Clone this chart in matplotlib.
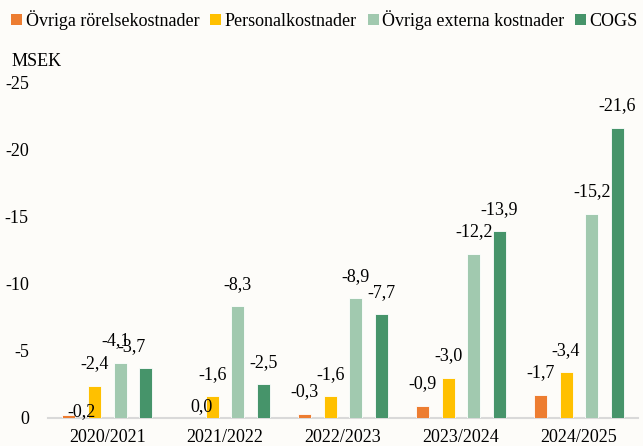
import numpy as np
import matplotlib
matplotlib.use('Agg')
import matplotlib.pyplot as plt
from matplotlib.patches import Patch

years = ['2020/2021', '2021/2022', '2022/2023', '2023/2024', '2024/2025']
series_names = ['Övriga rörelsekostnader', 'Personalkostnader',
                'Övriga externa kostnader', 'COGS']
ovriga_rorelse = [-0.2, 0.0, -0.3, -0.9, -1.7]
personal = [-2.4, -1.6, -1.6, -3.0, -3.4]
ovriga_externa = [-4.1, -8.3, -8.9, -12.2, -15.2]
cogs = [-3.7, -2.5, -7.7, -13.9, -21.6]
y_ticks = [0, -5, -10, -15, -20, -25]

colors = ['#ED7D31', '#FFC000', '#A1C9AF', '#46946A']
bg = '#FDFCF9'

# manual nudges (pixels) for a few crowded labels: (series, group) -> (dx, dy)
label_nudge = {(0, 0): (13, -18), (0, 1): (15, -11),
               (2, 0): (-4, 0), (3, 0): (-14, 0)}

plt.rcParams['font.family'] = ['Liberation Serif', 'DejaVu Serif']


def fmt(v):
    return ('%.1f' % v).replace('.', ',')


def main():
    fig = plt.figure(figsize=(6.43, 4.46), dpi=100, facecolor=bg)
    ax = fig.add_axes([0.075, 0.063, 0.917, 0.753], facecolor=bg)

    x = np.arange(len(years))
    width = 0.11
    step = 0.218
    all_series = [ovriga_rorelse, personal, ovriga_externa, cogs]
    for i, vals in enumerate(all_series):
        pos = x + (i - 1.5) * step
        heights = -np.array(vals)
        ax.bar(pos, heights, width, color=colors[i], edgecolor='white',
               linewidth=0.6, zorder=3)
        for j, (p, h, v) in enumerate(zip(pos, heights, vals)):
            dx, dy = label_nudge.get((i, j), (0, 0))
            ax.annotate(fmt(v), (p, h), xytext=(dx, 22 + dy),
                        textcoords='offset pixels', ha='center',
                        va='center', fontsize=13, color='black', zorder=5)

    ax.set_xlim(-0.5, len(years) - 0.5)
    ax.set_ylim(0, 25)
    ax.set_yticks([-t for t in y_ticks])
    ax.set_yticklabels([str(t) for t in y_ticks], fontsize=13)
    ax.set_xticks(x)
    ax.set_xticklabels(years, fontsize=13)
    ax.tick_params(length=0)
    ax.tick_params(axis='x', pad=8)
    ax.tick_params(axis='y', pad=14)
    for s in ['top', 'right', 'left']:
        ax.spines[s].set_visible(False)
    ax.spines['bottom'].set_color('#D9D9D9')
    ax.spines['bottom'].set_linewidth(1.5)

    fig.text(0.018, 0.862, 'MSEK', fontsize=13, va='center')

    handles = [Patch(facecolor=c, edgecolor='none') for c in colors]
    fig.legend(handles, series_names, loc='center', ncol=4,
               bbox_to_anchor=(0.505, 0.955), frameon=False, fontsize=13,
               handlelength=0.6, handleheight=0.6, handletextpad=0.2,
               columnspacing=0.6)

    plt.savefig('out.png', dpi=100, facecolor=bg)


if __name__ == '__main__':
    main()
